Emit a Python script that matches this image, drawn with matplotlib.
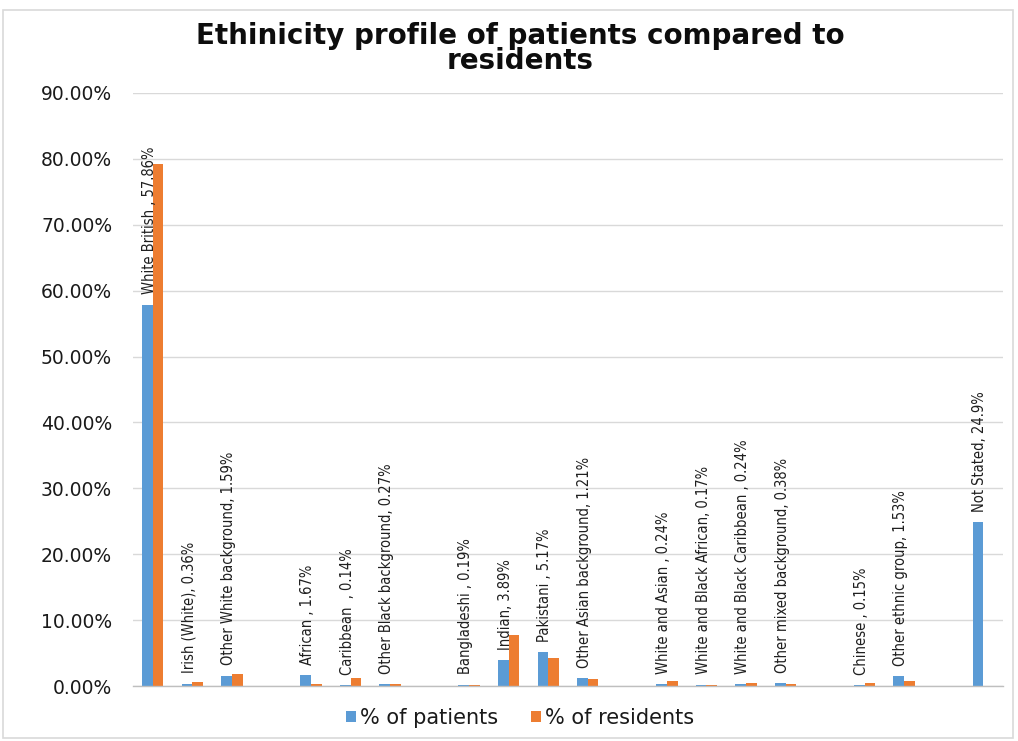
import numpy as np
import matplotlib
matplotlib.use("Agg")
import matplotlib.pyplot as plt
from matplotlib import font_manager as fm
from matplotlib.patches import Rectangle
from matplotlib.ticker import PercentFormatter

# Ethnic groups in chart order; a blank slot separates each broad group
categories = [
    "White British ", "Irish (White)", "Other White background",
    "African ", "Caribbean  ", "Other Black background",
    "Bangladeshi ", "Indian", "Pakistani ", "Other Asian background",
    "White and Asian ", "White and Black African", "White and Black Caribbean ",
    "Other mixed background",
    "Chinese ", "Other ethnic group",
    "Not Stated",
]
group_sizes = [3, 3, 4, 4, 2, 1]

# Percentages
patients = [57.86, 0.36, 1.59, 1.67, 0.14, 0.27, 0.19, 3.89, 5.17, 1.21,
            0.24, 0.17, 0.24, 0.38, 0.15, 1.53, 24.9]
residents = [79.3, 0.6, 1.8, 0.25, 1.2, 0.25, 0.2, 7.8, 4.2, 1.0,
             0.7, 0.2, 0.5, 0.35, 0.45, 0.75, 0.0]

series_names = ["% of patients", "% of residents"]
title = "Ethinicity profile of patients compared to\nresidents"

BLUE = "#5B9BD5"
ORANGE = "#ED7D31"
GRID = "#D9D9D9"


def narrow_font():
    """Pick a condensed sans face for the rotated data labels if one exists."""
    for entry in fm.fontManager.ttflist:
        if entry.name == "Liberation Sans Narrow" and entry.weight in (400, "normal", "regular"):
            return dict(family="Liberation Sans Narrow"), 11.5
    for entry in fm.fontManager.ttflist:
        if entry.name == "DejaVu Sans" and "condensed" in str(entry.stretch):
            return dict(family="DejaVu Sans", stretch="condensed"), 10.5
    for name in ("Roboto Condensed", "Open Sans Condensed"):
        if any(e.name == name for e in fm.fontManager.ttflist):
            return dict(family=name), 10.5
    return dict(family="DejaVu Sans"), 8.5


label_font, label_size = narrow_font()

# Slot positions: one empty slot between consecutive groups
positions = []
slot = 0
for gi, size in enumerate(group_sizes):
    for _ in range(size):
        positions.append(slot)
        slot += 1
    slot += 1
positions = np.array(positions, dtype=float)
n_slots = int(positions[-1]) + 1

W, H = 1018, 741
fig = plt.figure(figsize=(W / 100, H / 100), dpi=100)
fig.patch.set_facecolor("white")

# Light outer frame of the chart area
fig.patches.append(Rectangle((3 / W, 1 - 738 / H), (1013 - 3) / W, (738 - 10) / H,
                             transform=fig.transFigure, fill=False,
                             edgecolor=GRID, linewidth=1.2))

ax = fig.add_axes([133 / W, 1 - 686 / H, (1003 - 133) / W, (686 - 93) / H])

bw = 0.27
ax.bar(positions - bw / 2, patients, width=bw, color=BLUE, label=series_names[0], zorder=3)
ax.bar(positions + bw / 2, residents, width=bw, color=ORANGE, label=series_names[1], zorder=3)

# Data labels: category name and patient share, rotated above the patient bar
for x, name, v in zip(positions, categories, patients):
    txt = f"{name}, {round(v, 2):g}%"
    ax.annotate(txt, xy=(x - bw / 2, v), xytext=(1.5, 7.5), textcoords="offset points",
                rotation=90, ha="center", va="bottom", fontsize=label_size,
                color="#1f1f1f", zorder=4, **label_font)

ax.set_xlim(-0.5, n_slots - 0.5)
ax.set_ylim(0, 90)
ax.set_yticks(np.arange(0, 91, 10))
ax.yaxis.set_major_formatter(PercentFormatter(xmax=100, decimals=2))
ax.set_xticks([])
ax.tick_params(axis="y", length=0, pad=15, labelsize=13.5, labelcolor="#1a1a1a")
ax.grid(axis="y", color=GRID, linewidth=1, zorder=0)
for side in ("top", "right", "left"):
    ax.spines[side].set_visible(False)
ax.spines["bottom"].set_color("#BFBFBF")
ax.spines["bottom"].set_linewidth(1)
ax.spines["bottom"].set_zorder(3.5)

fig.text(520 / W, 1 - 48.5 / H, title, ha="center", va="center", fontsize=20,
         fontweight="bold", linespacing=0.86, color="#0d0d0d")

fig.legend(loc="center", bbox_to_anchor=(520 / W, 1 - 718 / H), ncol=2,
           frameon=False, fontsize=15, handlelength=0.45, handleheight=0.45,
           handletextpad=0.2, columnspacing=1.6, labelcolor="#1a1a1a")

fig.savefig("out.png", dpi=100, facecolor="white")
